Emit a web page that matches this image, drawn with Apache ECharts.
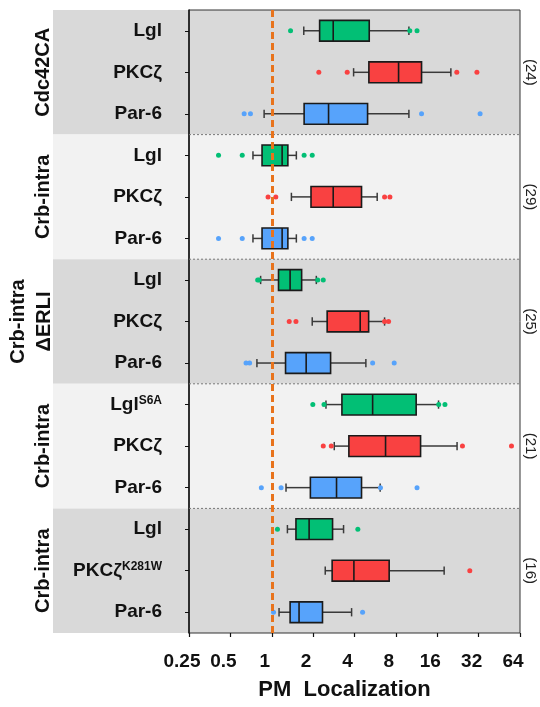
<!DOCTYPE html>
<html><head><meta charset="utf-8">
<script src="https://cdn.jsdelivr.net/npm/echarts@6/dist/echarts.min.js"></script>
<style>html,body{margin:0;padding:0;background:#fff}#c{width:540px;height:707px}</style>
</head><body><div id="c"></div>
<script>
// ---- data ----
const categories = ['Lgl','PKCζ','Par-6','Lgl','PKCζ','Par-6','Lgl','PKCζ','Par-6','Lgl','PKCζ','Par-6','Lgl','PKCζ','Par-6'];
const superscripts = ['','','','','','','','','','S6A','','','','K281W',''];
const groupNames = ['Cdc42CA','Crb-intra','Crb-intra\nΔERLI','Crb-intra','Crb-intra'];
const groupCounts = ['(24)','(29)','(25)','(21)','(16)'];
const xTickLabels = ['0.25','0.5','1','2','4','8','16','32','64'];
const xName = 'PM  Localization';
const refValue = 1;

const lowWhisker  = [1.71, 3.94, 0.88, 0.73, 1.39, 0.73, 0.83, 1.97, 0.78, 2.48, 2.85, 1.27, 1.30, 2.45, 1.13];
const q1          = [2.23, 5.09, 1.72, 0.85, 1.93, 0.85, 1.12, 2.53, 1.26, 3.24, 3.64, 1.91, 1.50, 2.75, 1.36];
const median      = [2.80, 8.37, 2.59, 1.19, 2.80, 1.19, 1.36, 4.40, 1.78, 5.42, 6.73, 2.96, 1.87, 3.96, 1.58];
const q3          = [5.12, 12.3, 4.98, 1.31, 4.50, 1.31, 1.65, 5.07, 2.68, 11.24, 12.1, 4.50, 2.77, 7.15, 2.34];
const highWhisker = [9.95, 20.1, 9.95, 1.51, 5.85, 1.51, 2.11, 6.62, 4.84, 16.35, 22.3, 6.15, 3.33, 17.96, 3.81];
const outliers = [
  [1.37, 10.1, 11.4],
  [2.20, 3.54, 22.2, 31.1],
  [0.63, 0.70, 12.3, 32.8],
  [0.41, 0.61, 1.72, 1.97],
  [0.94, 1.07, 6.62, 7.24],
  [0.41, 0.61, 1.72, 1.97],
  [0.81, 0.79, 2.16, 2.37],
  [1.34, 1.50, 6.62, 7.08],
  [0.65, 0.69, 5.42, 7.78],
  [1.99, 2.40, 16.4, 18.2],
  [2.37, 2.71, 24.4, 55.5],
  [0.84, 1.17, 6.18, 11.4],
  [1.10, 4.23],
  [27.6],
  [1.03, 4.58]
];

// ---- styles / layout ----
const colors = ['#02BF75', '#F94141', '#57A3FB'];
const bandColors = ['#D9D9D9', '#F2F2F2'];
const FONT = "'Liberation Sans', Arial, sans-serif";
const G = {left: 189, right: 520, top: 10, bottom: 633, bandLeft: 53};
const rowH = (G.bottom - G.top) / categories.length;

const boxData = categories.map((c, i) => [i, lowWhisker[i], q1[i], median[i], q3[i], highWhisker[i]]);
const outlierData = [];
outliers.forEach((arr, i) => arr.forEach(v => outlierData.push([v, i])));

const graphics = [];
groupNames.forEach((name, g) => {
  const y0 = G.top + g * 3 * rowH, y1 = y0 + 3 * rowH;
  graphics.push({type: 'rect', z: -10, shape: {x: G.bandLeft, y: y0, width: G.right - G.bandLeft, height: y1 - y0},
    style: {fill: bandColors[g % 2]}});
  if (g > 0) {
    graphics.push({type: 'line', z: 1, shape: {x1: G.left, y1: y0, x2: G.right, y2: y0},
      style: {stroke: '#777', lineWidth: 1, lineDash: [2, 2]}});
  }
  const cy = (y0 + y1) / 2;
  graphics.push({type: 'text', z: 5, x: name.indexOf('\n') >= 0 ? 31 : 43, y: cy, rotation: Math.PI / 2,
    style: {text: name, fill: '#111', font: 'bold 20px ' + FONT, align: 'center', verticalAlign: 'middle', lineHeight: 26}});
  graphics.push({type: 'text', z: 5, x: 530, y: cy, rotation: -Math.PI / 2,
    style: {text: groupCounts[g], fill: '#222', font: '15px ' + FONT, align: 'center', verticalAlign: 'middle'}});
});

const chart = echarts.init(document.getElementById('c'), null, {renderer: 'canvas'});
chart.setOption({
  animation: false,
  backgroundColor: '#fff',
  grid: {left: G.left, right: 540 - G.right, top: G.top, bottom: 707 - G.bottom, containLabel: false, outerBoundsMode: 'none',
    show: true, borderColor: '#333', borderWidth: 1, backgroundColor: 'transparent'},
  xAxis: {
    type: 'log', logBase: 2, min: 0.25, max: 64, splitNumber: 8,
    axisLine: {lineStyle: {color: '#111', width: 1.5}},
    axisTick: {show: true, length: 4, lineStyle: {color: '#111', width: 1.2}},
    splitLine: {show: false},
    axisLabel: {margin: 19, color: '#111', fontSize: 19, fontWeight: 'bold', fontFamily: FONT, padding: [0, 14, 0, 0],
      formatter: v => xTickLabels[Math.round(Math.log2(v)) + 2]},
    name: xName, nameLocation: 'middle', nameGap: 46,
    nameTextStyle: {color: '#111', fontSize: 22, fontWeight: 'bold', fontFamily: FONT, padding: [0, 20, 0, 0]}
  },
  yAxis: {
    type: 'category', inverse: true, data: categories,
    axisLine: {lineStyle: {color: '#111', width: 1.5}},
    axisTick: {show: true, length: 4, alignWithLabel: true, lineStyle: {color: '#111'}},
    axisLabel: {margin: 27, fontFamily: FONT,
      formatter: (v, i) => superscripts[i] ? '{m|' + v + '}{s|' + superscripts[i] + '}' : '{m|' + v + '}',
      rich: {
        m: {fontSize: 19, fontWeight: 'bold', color: '#111', fontFamily: FONT},
        s: {fontSize: 12, fontWeight: 'bold', color: '#111', fontFamily: FONT, verticalAlign: 'top', padding: [0, 0, 8, 0]}
      }}
  },
  graphic: graphics,
  series: [
    {
      type: 'custom', z: 3,
      data: boxData,
      encode: {x: [1, 2, 3, 4, 5], y: 0},
      renderItem: (params, api) => {
        const row = api.value(0);
        const lo = api.coord([api.value(1), row]);
        const a = api.coord([api.value(2), row]);
        const m = api.coord([api.value(3), row]);
        const b = api.coord([api.value(4), row]);
        const hi = api.coord([api.value(5), row]);
        const band = Math.abs(api.coord([1, 1])[1] - api.coord([1, 0])[1]);
        const bh = band * 0.5, ch = band * 0.2, cy = lo[1];
        const col = colors[row % 3];
        const wl = {stroke: '#3a3a3a', lineWidth: 1.5};
        return {type: 'group', children: [
          {type: 'line', shape: {x1: lo[0], y1: cy, x2: a[0], y2: cy}, style: wl},
          {type: 'line', shape: {x1: b[0], y1: cy, x2: hi[0], y2: cy}, style: wl},
          {type: 'line', shape: {x1: lo[0], y1: cy - ch / 2, x2: lo[0], y2: cy + ch / 2}, style: wl},
          {type: 'line', shape: {x1: hi[0], y1: cy - ch / 2, x2: hi[0], y2: cy + ch / 2}, style: wl},
          {type: 'rect', shape: {x: a[0], y: cy - bh / 2, width: b[0] - a[0], height: bh},
            style: {fill: col, stroke: '#1a1a1a', lineWidth: 1.6}},
          {type: 'line', shape: {x1: m[0], y1: cy - bh / 2, x2: m[0], y2: cy + bh / 2}, style: {stroke: '#1a1a1a', lineWidth: 1.6}}
        ]};
      }
    },
    {
      type: 'scatter', z: 4,
      data: outlierData,
      symbolSize: 5,
      itemStyle: {color: p => colors[p.value[1] % 3], opacity: 1},
      markLine: {
        silent: true, symbol: 'none', label: {show: false},
        lineStyle: {color: '#E8731C', type: [7, 4], width: 3},
        data: [{xAxis: refValue}]
      }
    }
  ]
});
</script></body></html>
